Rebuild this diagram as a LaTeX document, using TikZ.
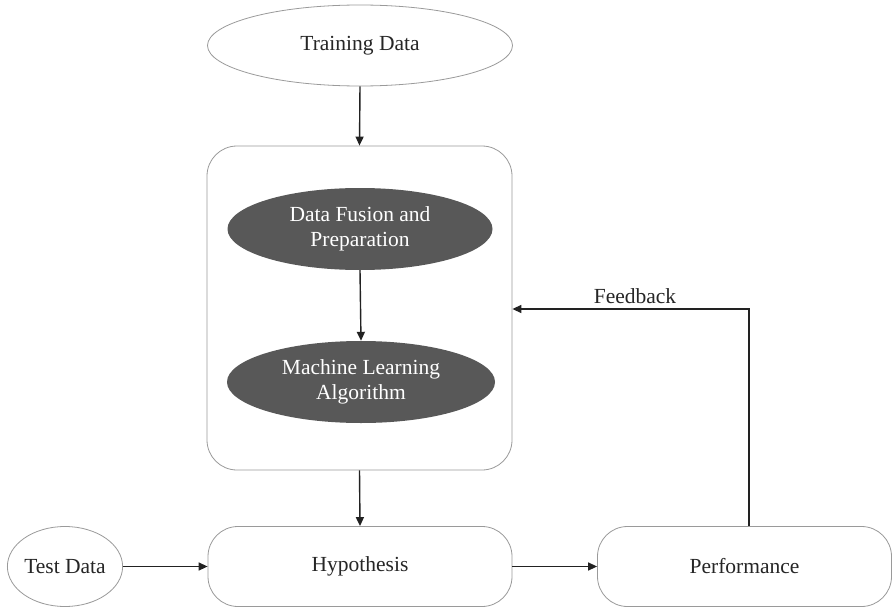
\documentclass[tikz,border=0pt]{standalone}
\usepackage{fontspec}
\setmainfont{Liberation Serif}
\usetikzlibrary{shapes.geometric,arrows.meta}
\definecolor{bordergray}{HTML}{9A9A9A}
\definecolor{darkfill}{HTML}{585858}
\definecolor{arrowcol}{HTML}{222222}
\begin{document}
\begin{tikzpicture}[x=1pt,y=1pt,
  lightell/.style={ellipse,draw=bordergray,line width=0.8pt,fill=white,inner sep=0pt,
    font=\fontsize{21.5}{25}\selectfont,text=black!85},
  darkell/.style={ellipse,draw=none,fill=darkfill,inner sep=0pt,align=center,
    font=\fontsize{21.5}{25}\selectfont,text=white},
  rbox/.style={rectangle,rounded corners=30pt,draw=bordergray,line width=0.8pt,fill=white,
    inner sep=0pt,font=\fontsize{21.5}{25}\selectfont,text=black!85},
  arr/.style={draw=arrowcol,line width=1.4pt,-{Triangle[length=9pt,width=8pt]}},
  lbl/.style={font=\fontsize{21.5}{25}\selectfont,text=black!85,inner sep=0pt}]
\useasboundingbox (0,0) rectangle (892,-610);
\node[lightell,minimum width=305pt,minimum height=81pt] (td) at (360,-45.5) {Training Data};
\node[rbox,minimum width=305pt,minimum height=324pt] (box) at (359.5,-308) {};
\node[darkell,minimum width=265pt,minimum height=82pt] (df) at (360,-229) {Data Fusion and\\Preparation};
\node[darkell,minimum width=268pt,minimum height=82pt] (ml) at (361,-382) {Machine Learning\\Algorithm};
\node[rbox,minimum width=304pt,minimum height=80pt] (hyp) at (360,-566.5) {Hypothesis};
\node[lightell,minimum width=113pt,minimum height=80pt] (test) at (65,-566.5) {Test Data};
\node[rbox,minimum width=294pt,minimum height=80pt] (perf) at (744.5,-566.5) {Performance};
\coordinate (fb) at (749,-309);
\node[lbl] (fbl) at (635,-296) {Feedback};
\draw[arr] (td.south) -- (box.north);
\draw[arr] (df.south) -- (ml.north);
\draw[arr] (box.south) -- (hyp.north);
\draw[arr] (test.east) -- (hyp.west);
\draw[arr] (hyp.east) -- (perf.west);
\draw[arr] (perf.north -| fb) -- (fb) -- (box.east |- fb);
\end{tikzpicture}
\end{document}
